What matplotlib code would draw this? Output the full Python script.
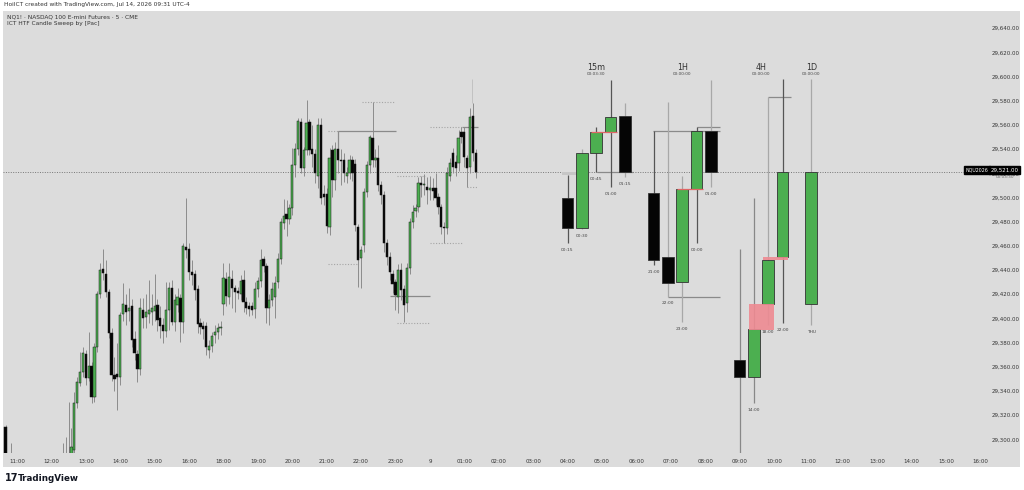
import matplotlib
matplotlib.use("Agg")
import matplotlib.pyplot as plt
from matplotlib.patches import Rectangle

# ---------------- data ----------------
bar_index = [-4, -2] + list(range(16, 161))
opens = [29310, 29284,
 29283, 29284, 29282, 29280, 29291, 29330, 29347, 29356, 29371, 29351, 29361, 29335, 29376, 29420, 29441, 29437, 29422, 29388,
 29353, 29354, 29352, 29404, 29411, 29406, 29410, 29383, 29371, 29358, 29407, 29401, 29404, 29405, 29406, 29411, 29400, 29395,
 29390, 29407, 29425, 29397, 29411, 29417, 29397, 29459, 29457, 29438, 29437, 29424, 29396, 29394, 29394, 29374, 29377, 29386,
 29389, 29392, 29412, 29433, 29418, 29433, 29425, 29423, 29420, 29432, 29414, 29410, 29410, 29408, 29424, 29431, 29449, 29443,
 29409, 29415, 29418, 29430, 29449, 29479, 29486, 29482, 29491, 29527, 29540, 29562, 29524, 29539, 29562, 29540, 29536, 29518,
 29560, 29503, 29503, 29476, 29539, 29514.5, 29540, 29531, 29531, 29518, 29520, 29531, 29528, 29476, 29450, 29460.7, 29504.5,
 29527, 29549, 29531, 29533, 29510, 29502, 29462, 29451, 29437, 29430, 29417.8, 29440, 29424, 29412.8, 29442, 29480, 29489,
 29492, 29512, 29510, 29508.7, 29506, 29508, 29508, 29500, 29492, 29476, 29475, 29518, 29536.8, 29529, 29528.5, 29554, 29554,
 29533, 29525, 29567, 29537]
highs = [29312, 29297,
 29297, 29302, 29331, 29309.5, 29339, 29351.5, 29372, 29376, 29374, 29389, 29364, 29380, 29423, 29446, 29457, 29448, 29424, 29392,
 29368, 29380, 29405, 29429, 29420, 29425, 29416, 29390, 29374, 29417, 29417, 29420, 29432, 29420, 29437, 29416, 29410, 29400,
 29430, 29430, 29432, 29420, 29425, 29420, 29462, 29499.6, 29462, 29448, 29440, 29428, 29400, 29398, 29397, 29382, 29389, 29395,
 29396, 29398, 29446, 29438, 29446, 29440, 29428, 29426, 29436, 29440, 29418, 29414, 29414, 29430, 29434, 29457, 29452, 29446,
 29420, 29430, 29435, 29454, 29483, 29498.6, 29498, 29495, 29541, 29545, 29566, 29566, 29542, 29580.6, 29565, 29560, 29540, 29566,
 29566, 29510, 29508, 29540.9, 29543.4, 29546, 29555, 29540, 29537, 29525, 29535, 29534, 29532, 29478, 29460, 29508, 29530,
 29552, 29578.9, 29540, 29543, 29514, 29505, 29466, 29455, 29440, 29433, 29445, 29446, 29428, 29446, 29483, 29493.8, 29495,
 29517, 29518, 29519, 29517, 29518, 29516, 29520, 29504, 29495, 29480, 29525, 29532.6, 29541, 29535, 29556, 29558.2, 29558,
 29535, 29574, 29578.1, 29540]
lows = [29270, 29278,
 29275, 29276, 29274, 29276, 29287, 29326, 29344, 29352, 29345, 29348, 29330, 29331, 29372, 29417, 29432, 29418, 29384, 29348,
 29340, 29324, 29345, 29398, 29395, 29398, 29376, 29366, 29347.5, 29353, 29392, 29392, 29396, 29395, 29398, 29390, 29384, 29380,
 29385, 29390.5, 29395, 29390, 29405, 29380.6, 29388, 29450, 29432, 29428, 29415, 29388, 29387, 29383, 29370, 29367, 29372, 29380,
 29383, 29386, 29403, 29410, 29412, 29409, 29405, 29416, 29415, 29405, 29404, 29402, 29403, 29400, 29418, 29426, 29438, 29396,
 29394.6, 29410, 29400, 29425, 29445, 29474, 29468, 29478, 29485.5, 29517, 29535, 29520, 29518, 29535, 29535, 29525, 29512, 29508,
 29495, 29494, 29470.6, 29469, 29500, 29506, 29520, 29510, 29513, 29512, 29515, 29514, 29472, 29426, 29425, 29455, 29500,
 29520, 29525, 29525, 29505, 29495, 29455, 29444, 29432, 29421, 29407, 29404.5, 29415, 29397.1, 29405, 29437, 29475, 29484,
 29488, 29500, 29502, 29495, 29498, 29498, 29494, 29486, 29470, 29462.4, 29470, 29514, 29520, 29518, 29522, 29545, 29525,
 29508.7, 29520, 29530, 29516]
closes = [29275, 29282,
 29285, 29282, 29284, 29293.8, 29330, 29347.5, 29356, 29371.5, 29351, 29360.7, 29335, 29376.4, 29420, 29440, 29437.5, 29422, 29388, 29353,
 29350, 29351.5, 29403, 29412, 29405, 29409, 29382, 29371.5, 29358, 29408.7, 29400.4, 29405, 29407, 29409, 29410, 29399, 29394, 29390,
 29407, 29425, 29397, 29415, 29417.6, 29397, 29460, 29456.6, 29438.4, 29436, 29423.5, 29395.5, 29393, 29391, 29376.4, 29377, 29385.5, 29389,
 29392.3, 29393, 29433.5, 29418.6, 29434, 29425, 29422, 29421, 29431, 29413.7, 29408.7, 29408, 29407, 29424.4, 29431, 29448.3, 29443.4, 29408.7,
 29415.3, 29424.4, 29429, 29449, 29479.7, 29484.7, 29482, 29491.3, 29526.8, 29540, 29563, 29524, 29539, 29561.5, 29539, 29536, 29520.2, 29560,
 29499.6, 29500, 29476.4, 29532.6, 29514.5, 29540, 29530.9, 29530, 29520.2, 29520, 29530.9, 29520, 29477.2, 29448.3, 29456.6, 29504.5, 29526.8,
 29550, 29531, 29533, 29510.3, 29502, 29462.4, 29450.8, 29438.4, 29428.5, 29419.4, 29440, 29423.5, 29411.2, 29441.7, 29479.7, 29488, 29491,
 29512, 29510, 29511, 29506, 29508, 29505, 29499.6, 29492.1, 29475.6, 29474.8, 29520.2, 29528.5, 29525, 29524, 29549.2, 29550, 29533.4,
 29524.3, 29566.5, 29537, 29521]

last_price = 29521.0

# HTF candles (15m, 1H, 4H, 1D)
htf_index = [192, 197, 202, 207, 212, 222, 227, 232, 237, 242, 252, 257, 262, 267, 277]
htf_open  = [29499.6, 29474.8, 29536.8, 29554.1, 29567.3, 29503.7, 29450.8, 29430.2, 29507.0, 29554.9, 29365.7, 29351.7, 29412.0, 29450.8, 29412.0]
htf_high  = [29518.6, 29540.1, 29558.2, 29597.1, 29578.1, 29554.9, 29578.9, 29517.8, 29558.2, 29597.1, 29457.4, 29499.6, 29583.0, 29597.9, 29597.9]
htf_low   = [29462.4, 29474.0, 29521.1, 29508.7, 29516.9, 29444.2, 29418.0, 29397.1, 29462.4, 29508.7, 29270.0, 29330.2, 29394.6, 29396.3, 29394.6]
htf_close = [29474.8, 29536.8, 29554.1, 29566.5, 29521.0, 29448.3, 29429.3, 29507.0, 29554.9, 29521.0, 29351.7, 29391.3, 29448.3, 29521.0, 29521.0]
htf_time_labels = ["00:15", "00:30", "00:45", "01:00", "01:15", "21:00", "22:00", "23:00", "00:00", "01:00", "", "14:00", "18:00", "22:00", "THU"]
htf_names = ["15m", "1H", "4H", "1D"]
htf_countdown = ["00:03:30", "00:00:00", "00:00:00", "00:00:00"]
htf_name_index = [202, 232, 259.5, 277]

# x axis labels
xtick_index = [0, 12, 24, 36, 48, 60, 72, 84, 96, 108, 120, 132, 144, 156, 168, 180, 192, 204,
               216, 228, 240, 252, 264, 276, 288, 300, 312, 324, 336]
xtick_labels = ["11:00", "12:00", "13:00", "14:00", "15:00", "16:00", "18:00", "19:00", "20:00", "21:00",
                "22:00", "23:00", "9", "01:00", "02:00", "03:00", "04:00", "05:00", "06:00", "07:00",
                "08:00", "09:00", "10:00", "11:00", "12:00", "13:00", "14:00", "15:00", "16:00"]
ytick_values = list(range(29300, 29641, 20))

# sweep levels: (x_start, x_end, price)
solid_levels = [(112, 132.2, 29554.9), (130.1, 144.1, 29418.6), (155.2, 160.8, 29558.2),
                (202.3, 214.9, 29521.1), (221.8, 245.2, 29554.9), (227.1, 245.2, 29417.8),
                (237.2, 245.2, 29558.2), (262.0, 270.0, 29583.0)]
dotted_levels = [(120.3, 131.8, 29578.9), (108.5, 112, 29554.9), (108.5, 119, 29445.0),
                 (144.1, 155.6, 29462.4), (132.5, 144.1, 29396.3), (144.1, 155.2, 29558.2),
                 (132.5, 142.3, 29517.8), (157.0, 160.4, 29508.7)]
red_levels = [(200.2, 209.3, 29554.1), (230.2, 239.3, 29507.0)]

# ---------------- figure ----------------
W, H = 1024, 490
fig = plt.figure(figsize=(W / 100, H / 100), dpi=100)
fig.patch.set_facecolor("white")

def fx(px):
    return px / W

def fy(py):
    return 1 - py / H

BG = "#dcdcdc"
bg = fig.add_axes([fx(3), fy(467), fx(1020) - fx(3), fy(11) - fy(467)], zorder=0)
bg.set_facecolor(BG)
bg.set_xticks([])
bg.set_yticks([])
for s in bg.spines.values():
    s.set_visible(False)

ax = fig.add_axes([fx(3), fy(453), fx(987) - fx(3), fy(12) - fy(453)], zorder=1)
ax.set_facecolor("none")
ax.set_xlim(-4.88, 338.3)
ax.set_ylim(29288.8, 29653.3)
for s in ax.spines.values():
    s.set_visible(False)

UP = "#4caf50"
DOWN = "#050505"

def draw_candles(xs, o, h, l, c, width, wick_colors, wick_lw, edge, edge_lw, min_h):
    for i, x in enumerate(xs):
        ax.vlines(x, l[i], h[i], color=wick_colors[i], lw=wick_lw, zorder=3)
        bottom = min(o[i], c[i])
        height = max(abs(c[i] - o[i]), min_h)
        face = UP if c[i] >= o[i] else DOWN
        ax.add_patch(Rectangle((x - width / 2, bottom), width, height, facecolor=face,
                               edgecolor=edge, lw=edge_lw, zorder=4))

# main chart candles
draw_candles(bar_index, opens, highs, lows, closes, 0.78, ["#8c8c8c"] * len(bar_index), 0.7,
             "#1a1a1a", 0.35, 0.9)

# HTF candles
htf_wick = ["#555555", "#a8a8a8", "#555555", "#555555", "#a8a8a8",
            "#555555", "#a8a8a8", "#a8a8a8", "#555555", "#a8a8a8",
            "#888888", "#888888", "#a8a8a8", "#555555", "#a8a8a8"]
draw_candles(htf_index, htf_open, htf_high, htf_low, htf_close, 4.0, htf_wick, 0.9,
             "#333333", 0.6, 1.0)

# highlight boxes
ax.add_patch(Rectangle((190.1, 29518.6), 9.1, 2.5, facecolor="#c6c6c6", edgecolor="none", zorder=2))
ax.add_patch(Rectangle((255.3, 29390.5), 8.7, 21.5, facecolor="#ee8a92", edgecolor="none", alpha=0.9, zorder=5))
ax.add_patch(Rectangle((260.2, 29448.3), 8.7, 2.5, facecolor="#ee8a92", edgecolor="none", alpha=0.9, zorder=5))

for x0, x1, p in solid_levels:
    ax.hlines(p, x0, x1, color="#8a8a8a", lw=0.9, zorder=2.5)
for x0, x1, p in dotted_levels:
    ax.hlines(p, x0, x1, color="#a5a5a5", lw=0.8, linestyles=(0, (1, 1.5)), zorder=2.5)
for x0, x1, p in red_levels:
    ax.hlines(p, x0, x1, color="#e06666", lw=0.9, zorder=5)
ax.vlines(112, 29540, 29554.9, color="#8a8a8a", lw=0.9, zorder=2.5)
ax.vlines(158.7, 29578.1, 29597.9, color="#c2c2c2", lw=0.7, zorder=2.5)

# current price line
ax.axhline(last_price, color="#777777", lw=0.7, linestyle=(0, (1, 1.5)), zorder=1)

# HTF labels
for x, lo, lab in zip(htf_index, htf_low, htf_time_labels):
    if lab:
        ax.text(x, lo - 5.5, lab, fontsize=3.2, color="#444444", ha="center", va="center", zorder=6)
for x, name, cd in zip(htf_name_index, htf_names, htf_countdown):
    ax.text(x, 29607.8, name, fontsize=5.8, color="#333333", ha="center", va="center", zorder=6)
    ax.text(x, 29602.0, cd, fontsize=3.0, color="#444444", ha="center", va="center", zorder=6)

# axes ticks
ax.set_xticks(xtick_index)
ax.set_xticklabels(xtick_labels, fontsize=4.0, color="#333333")
ax.tick_params(axis="x", length=0, pad=4.5)
ax.yaxis.tick_right()
ax.set_yticks(ytick_values)
ax.set_yticklabels([f"{v:,.2f}" for v in ytick_values], fontsize=4.0, color="#333333")
ax.tick_params(axis="y", length=0, pad=3.5)

# header texts
fig.text(fx(4), fy(4.5), "HoiICT created with TradingView.com, Jul 14, 2026 09:31 UTC-4",
         fontsize=4.2, color="#333333", ha="left", va="center")
fig.text(fx(7), fy(17), "NQ1! · NASDAQ 100 E-mini Futures · 5 · CME",
         fontsize=4.2, color="#333333", ha="left", va="center", zorder=5)
fig.text(fx(7), fy(24), "ICT HTF Candle Sweep by [Pac]",
         fontsize=4.2, color="#333333", ha="left", va="center", zorder=5)

# price labels
fig.text(fx(977), fy(170), "NQU2026", fontsize=3.4, color="white", ha="center", va="center",
         bbox=dict(boxstyle="square,pad=0.3", facecolor="black", edgecolor="black"), zorder=10)
fig.text(fx(1004.5), fy(170), "29,521.00", fontsize=4.0, color="white", ha="center", va="center",
         bbox=dict(boxstyle="square,pad=0.3", facecolor="black", edgecolor="black"), zorder=10)
fig.text(fx(1004.5), fy(177), "00:03:30", fontsize=3.0, color="#666666", ha="center", va="center", zorder=10)

# TradingView logo
fig.text(fx(5), fy(478), "17", fontsize=7, fontweight="bold", color="#131722", ha="left", va="center")
fig.text(fx(18), fy(478), "TradingView", fontsize=6.3, fontweight="bold", color="#131722",
         ha="left", va="center")

fig.savefig("out.png", dpi=100, facecolor="white")
